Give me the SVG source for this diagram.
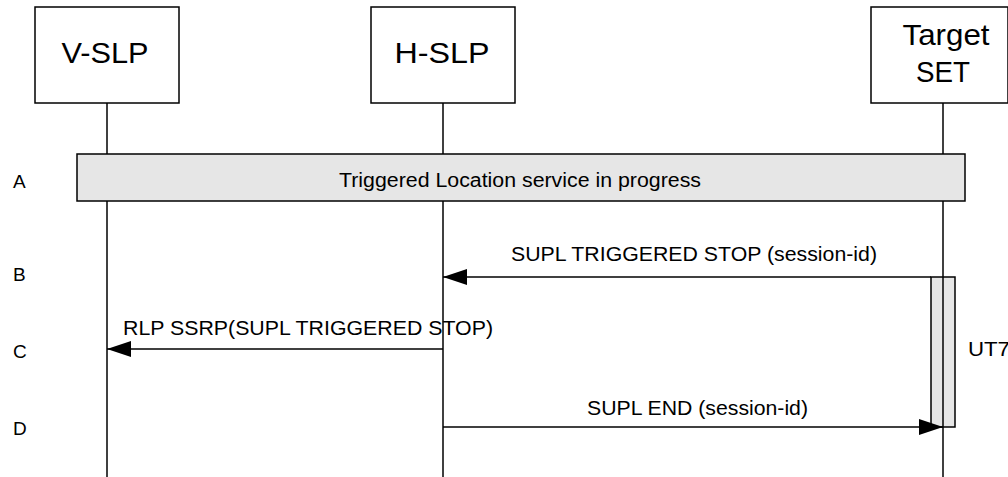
<svg xmlns="http://www.w3.org/2000/svg" width="1008" height="477" viewBox="0 0 1008 477">
<style>
text{font-family:"Liberation Sans",Arial,sans-serif;fill:#000}
.hdr{font-size:29px;text-anchor:middle}
.msg{font-size:20px}
.row{font-size:19px}
.box{fill:#fff;stroke:#000;stroke-width:1.5}
.gray{fill:#e6e6e6;stroke:#000;stroke-width:1.5}
.life{stroke:#000;stroke-width:1.5;fill:none}
.arr{stroke:#000;stroke-width:1.5;fill:none;marker-end:url(#ah)}
</style>
<defs>
<marker id="ah" markerUnits="userSpaceOnUse" markerWidth="26" markerHeight="18" refX="24" refY="8" orient="auto">
<path d="M0,0 L24,8 L0,16 Z" fill="#000"/>
</marker>
</defs>
<g id="lifelines">
<line class="life" x1="107" y1="103" x2="107" y2="477"/>
<line class="life" x1="443" y1="103" x2="443" y2="477"/>
<line class="life" x1="943" y1="103" x2="943" y2="477"/>
</g>
<g id="V-SLP">
<rect class="box" x="35" y="7" width="144" height="96"/>
<text class="hdr" x="105" y="63" textLength="87" lengthAdjust="spacingAndGlyphs">V-SLP</text>
</g>
<g id="H-SLP">
<rect class="box" x="371" y="7" width="144" height="96"/>
<text class="hdr" x="442" y="63" textLength="95" lengthAdjust="spacingAndGlyphs">H-SLP</text>
</g>
<g id="TargetSET">
<rect class="box" x="871" y="7" width="137" height="96"/>
<text class="hdr" x="946" y="45" textLength="87" lengthAdjust="spacingAndGlyphs">Target</text>
<text class="hdr" x="943" y="82" textLength="54" lengthAdjust="spacingAndGlyphs">SET</text>
</g>
<g id="stepA">
<rect class="gray" x="77" y="154" width="888" height="47"/>
<text x="520" y="187" style="font-size:20px;text-anchor:middle" textLength="362" lengthAdjust="spacingAndGlyphs">Triggered Location service in progress</text>
</g>
<g id="UT7">
<rect class="gray" x="931" y="277" width="24" height="150"/>
<line class="life" x1="943" y1="277" x2="943" y2="427"/>
<text class="msg" x="968" y="356" textLength="42" lengthAdjust="spacingAndGlyphs">UT7</text>
</g>
<g id="connectors">
<line class="arr" x1="931" y1="277" x2="443" y2="277"/>
<text class="msg" x="511" y="261" textLength="366" lengthAdjust="spacingAndGlyphs">SUPL TRIGGERED STOP (session-id)</text>
<line class="arr" x1="443" y1="349" x2="107" y2="349"/>
<text class="msg" x="123" y="335" textLength="370" lengthAdjust="spacingAndGlyphs">RLP SSRP(SUPL TRIGGERED STOP)</text>
<line class="arr" x1="443" y1="427" x2="943" y2="427"/>
<text class="msg" x="587" y="415" textLength="221" lengthAdjust="spacingAndGlyphs">SUPL END (session-id)</text>
</g>
<g id="rows">
<text class="row" x="13" y="188">A</text>
<text class="row" x="13" y="281">B</text>
<text class="row" x="13" y="358">C</text>
<text class="row" x="13" y="435">D</text>
</g>
</svg>
